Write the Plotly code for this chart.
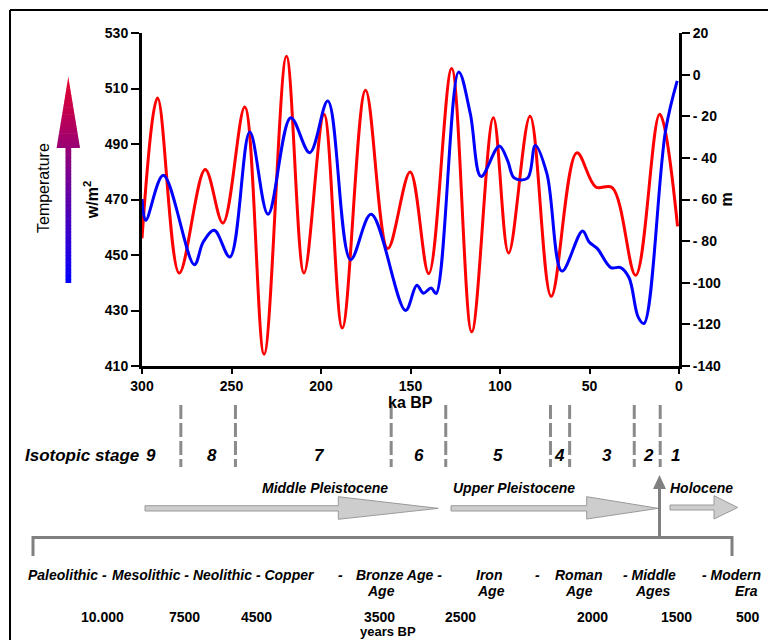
import plotly.graph_objects as go

# ---------------- data ----------------
ka_temp = [300, 291.3, 279.2, 264.7, 254.8, 242.6, 231.8, 219.3, 209.5, 198.3, 188.1,
           175.1, 162.7, 150.2, 139.8, 127.0, 115.8, 103.7, 95.2, 83.2, 71.4, 57.1,
           46.5, 37.3, 24.2, 10.8, 0.8]
temp_wm2 = [456, 506.6, 443.5, 480.8, 461.5, 503.3, 414.2, 521.6, 443.5, 500.7, 423.7,
            509.4, 452.3, 479.9, 443.3, 517.2, 422.3, 499.5, 450.7, 500.0, 435.1, 486.8,
            474.5, 474.3, 442.7, 500.7, 460.3]

ka_sea = [300, 297.9, 288.1, 270.8, 265.8, 259.6, 250.9, 239.8, 229.6, 216.9, 206.3,
          196.2, 183.5, 172.0, 152.8, 146.5, 142.8, 138.5, 135.7, 123.1, 116.6, 110.6,
          100.4, 95.8, 92.0, 84.6, 80.3, 73.8, 65.4, 53.9, 50.2, 45.6, 38.1, 32.6,
          27.9, 22.8, 19.6, 7.5, 1.0]
sea_m = [-59.8, -70.0, -48.4, -91.3, -80.4, -74.8, -87.6, -27.6, -67.1, -20.7, -37.5,
         -12.7, -88.9, -67.1, -113.3, -101.2, -105.0, -102.5, -105.2, 1.3, -18.7, -48.9,
         -34.3, -41.2, -49.7, -49.7, -34.0, -47.6, -94.4, -75.1, -80.4, -83.6, -92.7, -92.7,
         -97.6, -116.5, -119.6, -26.8, -3.0]

x_ticks = [300, 250, 200, 150, 100, 50, 0]
y_left_ticks = [410, 430, 450, 470, 490, 510, 530]
y_right_ticks = [-140, -120, -100, -80, -60, -40, -20, 0, 20]
y_right_text = ["-140", "-120", "-100", "- 80", "- 60", "- 40", "- 20", "0", "20"]

stage_bounds = [278.3, 247.8, 160.8, 130.3, 71.8, 61.1, 25.0, 10.5]
stage_names = ["9", "8", "7", "6", "5", "4", "3", "2", "1"]
stage_pos = [295, 261, 201, 145, 101, 67, 40, 17, 2]

epoch_names = ["Middle Pleistocene", "Upper Pleistocene", "Holocene"]
period_row1 = ["Paleolithic -", "Mesolithic - Neolithic - Copper", "-", "Bronze Age -",
               "Iron", "-", "Roman", "- Middle", "- Modern"]
period_row2 = ["Age", "Age", "Age", "Ages", "Era"]
years_bp = ["10.000", "7500", "4500", "3500", "2500", "2000", "1500", "500"]

# ---------------- layout helpers ----------------
W, H = 768, 640
L, R, T, B = 142, 89, 33, 274
PW, PH = W - L - R, H - T - B
FONT = "Liberation Sans, Arial, sans-serif"


def px(x):
    return (x - L) / PW


def py(y):
    return (H - B - y) / PH


def path(points):
    s = "M " + " L ".join(f"{px(x):.5f},{py(y):.5f}" for x, y in points) + " Z"
    return s


fig = go.Figure()
fig.add_trace(go.Scatter(x=ka_temp, y=temp_wm2, mode="lines", yaxis="y",
                         line=dict(color="#ff0000", width=3, shape="spline", smoothing=1.0),
                         showlegend=False, hoverinfo="skip"))
fig.add_trace(go.Scatter(x=ka_sea, y=sea_m, mode="lines", yaxis="y2",
                         line=dict(color="#0000ff", width=3, shape="spline", smoothing=1.0),
                         showlegend=False, hoverinfo="skip"))

axis_common = dict(showline=True, linecolor="black", linewidth=3, ticks="outside",
                   tickwidth=2, tickcolor="black", showgrid=False, zeroline=False,
                   tickfont=dict(family=FONT, size=14, color="black", weight="bold"))

shapes = []
annotations = []

# outer frame
shapes.append(dict(type="line", xref="paper", yref="paper", x0=px(10), x1=px(768),
                   y0=py(10), y1=py(10), line=dict(color="black", width=2)))
shapes.append(dict(type="line", xref="paper", yref="paper", x0=px(10), x1=px(10),
                   y0=py(10), y1=py(640), line=dict(color="black", width=2)))

# x-axis title placed just under the tick labels
annotations.append(dict(xref="x", yref="paper", x=150, y=py(402), text="ka BP",
                        showarrow=False, xanchor="center", yanchor="middle",
                        font=dict(family=FONT, size=16, color="black", weight="bold")))

# isotopic stage boundaries
for b in stage_bounds:
    shapes.append(dict(type="line", xref="x", yref="paper", x0=b, x1=b,
                       y0=py(405), y1=py(467),
                       line=dict(color="#8a8a8a", width=3, dash="14px,4px")))
for name, pos in zip(stage_names, stage_pos):
    annotations.append(dict(xref="x", yref="paper", x=pos, y=py(456), text=name,
                            showarrow=False, xanchor="center", yanchor="middle",
                            font=dict(family=FONT, size=17, color="black",
                                      weight="bold", style="italic")))
annotations.append(dict(xref="paper", yref="paper", x=px(23), y=py(456), text="Isotopic stage",
                        showarrow=False, xanchor="left", yanchor="middle",
                        font=dict(family=FONT, size=17, color="black",
                                  weight="bold", style="italic")))

# temperature gradient arrow
def mix(t):
    c0 = (0, 0, 255)
    c1 = (232, 0, 44)
    return "rgb(%d,%d,%d)" % tuple(round(a + (b - a) * t) for a, b in zip(c0, c1))

y_bot, y_base, y_tip = 283, 148, 77
n = 40
for i in range(n):
    y0 = y_bot - (y_bot - y_base) * i / n
    y1 = y_bot - (y_bot - y_base) * (i + 1) / n - 0.6
    t = (y_bot - (y0 + y1) / 2) / (y_bot - y_tip)
    shapes.append(dict(type="path", xref="paper", yref="paper",
                       path=path([(65.5, y0), (71.2, y0), (71.2, y1), (65.5, y1)]),
                       fillcolor=mix(t), line=dict(width=0)))
m = 30
hw = 11.7
for i in range(m):
    y0 = y_base - (y_base - y_tip) * i / m
    y1 = y_base - (y_base - y_tip) * (i + 1) / m - 0.6
    w0 = hw * (y0 - y_tip) / (y_base - y_tip)
    w1 = max(hw * (y1 - y_tip) / (y_base - y_tip), 0)
    t = (y_bot - (y0 + y1) / 2) / (y_bot - y_tip)
    shapes.append(dict(type="path", xref="paper", yref="paper",
                       path=path([(68.3 - w0, y0), (68.3 + w0, y0), (68.3 + w1, y1), (68.3 - w1, y1)]),
                       fillcolor=mix(t), line=dict(width=0)))
annotations.append(dict(xref="paper", yref="paper", x=px(44), y=py(188), text="Temperature",
                        textangle=-90, showarrow=False, xanchor="center", yanchor="middle",
                        font=dict(family=FONT, size=16, color="black")))

# epoch block arrows
block_arrows = [
    (145, 338.3, 438.3, 505.7, 511, 496.7, 519.3),
    (451, 586.7, 658.3, 505.7, 511, 496.7, 519.0),
    (670, 714, 737.7, 505, 510, 495.7, 519.0),
]
for xs, xh, xt, s0, s1, h0, h1 in block_arrows:
    mid = (s0 + s1) / 2
    shapes.append(dict(type="path", xref="paper", yref="paper",
                       path=path([(xs, s0), (xh, s0), (xh, h0), (xt, mid), (xh, h1), (xh, s1), (xs, s1)]),
                       fillcolor="#cdcdcd", line=dict(color="#9a9a9a", width=1)))
for name, cx in zip(epoch_names, [325, 514, 701]):
    annotations.append(dict(xref="paper", yref="paper", x=px(cx), y=py(488), text=name,
                            showarrow=False, xanchor="center", yanchor="middle",
                            font=dict(family=FONT, size=14, color="black",
                                      weight="bold", style="italic")))

# timeline bracket and vertical arrow
shapes.append(dict(type="path", xref="paper", yref="paper",
                   path="M " + " L ".join(f"{px(x):.5f},{py(y):.5f}" for x, y in
                                          [(33, 556), (33, 537.5), (732, 537.5), (732, 556)]),
                   line=dict(color="#808080", width=3)))
shapes.append(dict(type="line", xref="paper", yref="paper", x0=px(659.5), x1=px(659.5),
                   y0=py(537.5), y1=py(488), line=dict(color="#808080", width=3)))
shapes.append(dict(type="path", xref="paper", yref="paper",
                   path=path([(653, 489), (666, 489), (659.5, 475)]),
                   fillcolor="#808080", line=dict(width=0)))

# period labels
row1_x = [67, 213, 340, 399, 489, 537, 578, 649, 731]
row2_x = [381, 491, 579, 652, 746]
years_x = [102.5, 184, 256, 379, 460, 592, 676, 747.5]
for name, cx in zip(period_row1, row1_x):
    annotations.append(dict(xref="paper", yref="paper", x=px(cx), y=py(575), text=name,
                            showarrow=False, xanchor="center", yanchor="middle",
                            font=dict(family=FONT, size=14, color="black",
                                      weight="bold", style="italic")))
for name, cx in zip(period_row2, row2_x):
    annotations.append(dict(xref="paper", yref="paper", x=px(cx), y=py(591), text=name,
                            showarrow=False, xanchor="center", yanchor="middle",
                            font=dict(family=FONT, size=14, color="black",
                                      weight="bold", style="italic")))
for name, cx in zip(years_bp, years_x):
    annotations.append(dict(xref="paper", yref="paper", x=px(cx), y=py(617), text=name,
                            showarrow=False, xanchor="center", yanchor="middle",
                            font=dict(family=FONT, size=14, color="black", weight="bold")))
annotations.append(dict(xref="paper", yref="paper", x=px(388), y=py(631), text="years BP",
                        showarrow=False, xanchor="center", yanchor="middle",
                        font=dict(family=FONT, size=13, color="black", weight="bold")))

fig.update_layout(
    width=W, height=H,
    margin=dict(l=L, r=R, t=T, b=B, pad=0),
    paper_bgcolor="white", plot_bgcolor="white",
    showlegend=False,
    xaxis=dict(range=[300, 0], tickvals=x_ticks, ticklen=5, **axis_common),
    yaxis=dict(range=[410, 530], tickvals=y_left_ticks, ticklen=8, **axis_common,
               title=dict(text="w/m<sup>2</sup>", standoff=3,
                          font=dict(family=FONT, size=16, color="black", weight="bold"))),
    yaxis2=dict(range=[-140, 20], tickvals=y_right_ticks, ticktext=y_right_text, ticklen=8,
                overlaying="y", side="right", **axis_common,
                title=dict(text="m", standoff=1,
                           font=dict(family=FONT, size=16, color="black", weight="bold"))),
    shapes=shapes,
    annotations=annotations,
)

fig.write_html("out.html")
